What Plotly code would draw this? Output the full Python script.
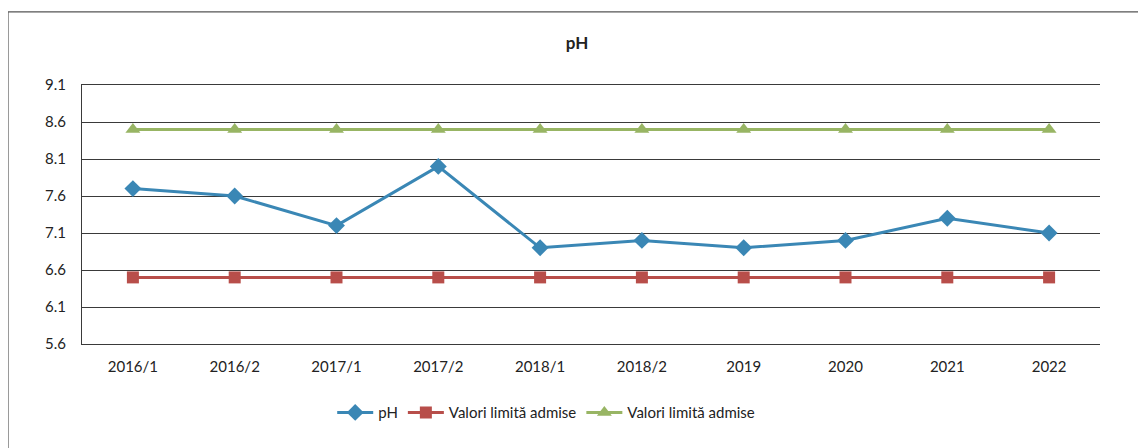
"""Grafic pH cu valori limită admise."""

import plotly.graph_objects as go

perioade = ["2016/1", "2016/2", "2017/1", "2017/2", "2018/1",
            "2018/2", "2019", "2020", "2021", "2022"]
ph = [7.7, 7.6, 7.2, 8.0, 6.9, 7.0, 6.9, 7.0, 7.3, 7.1]
limita_min = [6.5] * 10
limita_max = [8.5] * 10
y_ticks = [5.6, 6.1, 6.6, 7.1, 7.6, 8.1, 8.6, 9.1]

FONT = "Lato, 'Open Sans', sans-serif"
GRID = "#3a3a3a"

fig = go.Figure()
fig.add_trace(go.Scatter(
    x=perioade, y=ph, name="pH", mode="lines+markers",
    line=dict(color="#3A87B5", width=3),
    marker=dict(symbol="diamond", size=13, color="#3A87B5"),
))
fig.add_trace(go.Scatter(
    x=perioade, y=limita_min, name="Valori limită admise", mode="lines+markers",
    line=dict(color="#B84E4A", width=3),
    marker=dict(symbol="square", size=12, color="#B84E4A"),
))
fig.add_trace(go.Scatter(
    x=perioade, y=limita_max, name="Valori limită admise", mode="lines+markers",
    line=dict(color="#98B564", width=3),
    marker=dict(symbol="triangle-up", size=13, color="#98B564"),
))

# chenarul graficului (depășește marginea dreaptă/jos a imaginii)
fig.add_shape(type="rect", xref="paper", yref="paper",
              x0=-0.0727, x1=1.05, y0=-0.42, y1=1.282,
              line=dict(color="#555555", width=1.2), layer="below")

# pagina are o margine implicită de 8px, de aceea figura e puțin mai mică
fig.update_layout(
    width=1138, height=440,
    margin=dict(l=74, r=46, t=77, b=104, autoexpand=False),
    paper_bgcolor="white", plot_bgcolor="white",
    font=dict(family=FONT, size=15, color="#222222"),
    title=dict(text="<b>pH</b>", x=0.5, xanchor="center", y=0.92,
               yanchor="middle", font=dict(size=17, color="#222222")),
    showlegend=True,
    legend=dict(orientation="h", x=0.456, xanchor="center", y=-0.265,
                yanchor="middle", font=dict(size=15), itemwidth=36,
                traceorder="normal"),
    xaxis=dict(range=[-0.5, len(perioade) - 0.5],
               showgrid=False, showline=True, mirror=True, linecolor=GRID,
               linewidth=1, ticks="", tickfont=dict(size=15),
               ticklabelstandoff=9),
    yaxis=dict(range=[5.6, 9.1], tickvals=y_ticks, tickformat=".1f",
               showgrid=True, gridcolor=GRID, gridwidth=1,
               showline=True, linecolor=GRID, linewidth=1,
               zeroline=False, ticks="", tickfont=dict(size=15),
               ticklabelstandoff=12),
)

fig.write_html("out.html")
